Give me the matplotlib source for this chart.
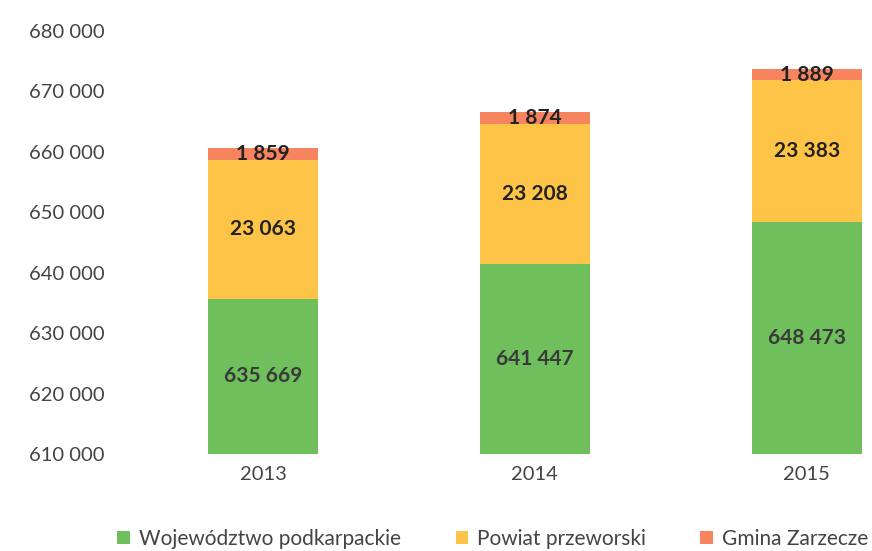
import matplotlib
matplotlib.use("Agg")
import matplotlib.pyplot as plt

years = ["2013", "2014", "2015"]
woj = [635669, 641447, 648473]
pow_ = [23063, 23208, 23383]
gmina = [1859, 1874, 1889]
series_names = ["Województwo podkarpackie", "Powiat przeworski", "Gmina Zarzecze"]
colors = ["#6fbf5c", "#fdc447", "#f5845f"]

plt.rcParams['font.family'] = ['Lato', 'DejaVu Sans']

fig = plt.figure(figsize=(8.72, 5.51), dpi=100)
ax = fig.add_axes([127/872, 1-454/551, 1-127/872, (454-31)/551])

base = 610000
x = list(range(len(years)))
w = 0.405
b1 = [v - base for v in woj]
ax.bar(x, b1, w, bottom=base, color=colors[0], label=series_names[0])
bot2 = [a for a in woj]
ax.bar(x, pow_, w, bottom=bot2, color=colors[1], label=series_names[1])
bot3 = [a + b for a, b in zip(woj, pow_)]
ax.bar(x, gmina, w, bottom=bot3, color=colors[2], label=series_names[2])

def fmt(v):
    return f"{v:,}".replace(",", " ")

for i in x:
    ax.text(i, base + (woj[i]-base)/2, fmt(woj[i]), ha='center', va='center',
            fontsize=15, fontweight='bold', color='#3a3a3a')
    ax.text(i, woj[i] + pow_[i]/2, fmt(pow_[i]), ha='center', va='center',
            fontsize=15, fontweight='bold', color='#222222')
    ax.text(i, bot3[i] + gmina[i]/2, fmt(gmina[i]), ha='center', va='center',
            fontsize=15, fontweight='bold', color='#222222')

ax.set_ylim(610000, 680000)
ax.set_yticks(range(610000, 680001, 10000))
ax.set_yticklabels([fmt(v) for v in range(610000, 680001, 10000)])
ax.set_xlim(-0.5, 2.24)
ax.set_xticks(x)
ax.set_xticklabels(years)
for s in ax.spines.values():
    s.set_visible(False)
ax.tick_params(axis='both', length=0, labelsize=14.5, colors='#444444')
ax.tick_params(axis='y', pad=16)
ax.tick_params(axis='x', pad=9)

leg = ax.legend(loc='center', bbox_to_anchor=((493-127)/745, -(539-454)/423), ncol=3, frameon=False,
                fontsize=15, handlelength=0.6, handleheight=0.6, columnspacing=2.6,
                handletextpad=0.45, borderaxespad=0, borderpad=0)
for t in leg.get_texts():
    t.set_color('#444444')

fig.savefig("out.png", dpi=100)
